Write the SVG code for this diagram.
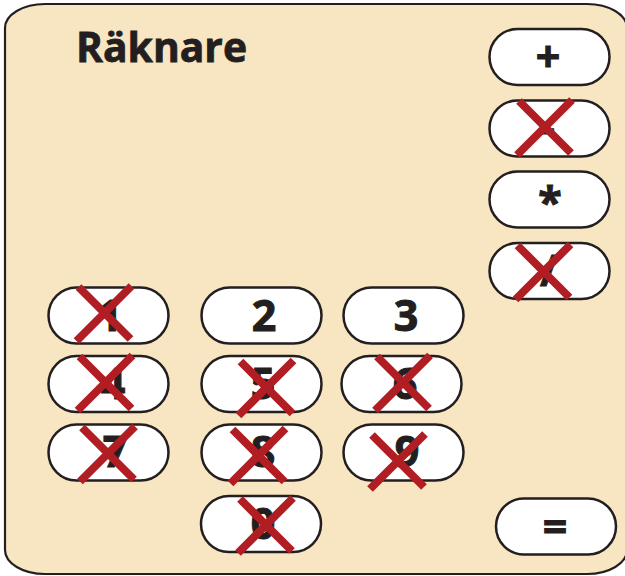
<svg xmlns="http://www.w3.org/2000/svg" width="625" height="576" viewBox="0 0 625 576">
<defs>
<style>
.frame{fill:#F8E5C1;stroke:#231F20;stroke-width:2.2}
.btn{fill:#FFFFFF;stroke:#231F20;stroke-width:2.5}
.lbl{font-family:"Open Sans","Liberation Sans",sans-serif;font-weight:700;font-size:43px;fill:#231F20;stroke:#231F20;stroke-width:1;text-anchor:middle}
.title{font-family:"Open Sans","Liberation Sans",sans-serif;font-weight:700;font-size:42px;fill:#231F20;stroke:#231F20;stroke-width:0.8}
.x{stroke:#B01E23;stroke-width:8;fill:none}
</style>
<path id="cross" class="x" d="M-26,-26 L26,26 M27,-27 L-28,28"/>
</defs>
<rect class="frame" x="5" y="4" width="622" height="570" rx="40" ry="24"/>
<text id="title" class="title" x="76" y="62" textLength="171" lengthAdjust="spacingAndGlyphs">Räknare</text>
<g id="btn-plus"><rect class="btn" x="489.5" y="29" width="120" height="56" rx="28"/><text class="lbl" x="548" y="72">+</text></g>
<g id="btn-minus"><rect class="btn" x="489.5" y="100.5" width="120" height="56" rx="28"/><text class="lbl" x="548" y="143">-</text></g>
<g id="btn-mul"><rect class="btn" x="489.5" y="171.5" width="120" height="56" rx="28"/><text class="lbl" x="550" y="218">*</text></g>
<g id="btn-div"><rect class="btn" x="489.5" y="243" width="120" height="56" rx="28"/><text class="lbl" x="549" y="286">/</text></g>
<g id="btn-1"><rect class="btn" x="48.5" y="287.5" width="120" height="56" rx="28"/><text class="lbl" x="110" y="331">1</text></g>
<g id="btn-2"><rect class="btn" x="201.5" y="287.5" width="120" height="56" rx="28"/><text class="lbl" x="264" y="331">2</text></g>
<g id="btn-3"><rect class="btn" x="343.5" y="287.5" width="120" height="56" rx="28"/><text class="lbl" x="406" y="331">3</text></g>
<g id="btn-4"><rect class="btn" x="48.5" y="356" width="120" height="56" rx="28"/><text class="lbl" x="113" y="399">4</text></g>
<g id="btn-5"><rect class="btn" x="201.5" y="356" width="120" height="56" rx="28"/><text class="lbl" x="263" y="399">5</text></g>
<g id="btn-6"><rect class="btn" x="341.5" y="356" width="120" height="56" rx="28"/><text class="lbl" x="405" y="399">6</text></g>
<g id="btn-7"><rect class="btn" x="48.5" y="424.5" width="120" height="56" rx="28"/><text class="lbl" x="115" y="467">7</text></g>
<g id="btn-8"><rect class="btn" x="201.5" y="424.5" width="120" height="56" rx="28"/><text class="lbl" x="263" y="467">8</text></g>
<g id="btn-9"><rect class="btn" x="343.5" y="424.5" width="120" height="56" rx="28"/><text class="lbl" x="407" y="467">9</text></g>
<g id="btn-0"><rect class="btn" x="201" y="496" width="120" height="56" rx="28"/><text class="lbl" x="263" y="539">0</text></g>
<g id="btn-eq"><rect class="btn" x="496" y="498.5" width="120" height="56" rx="28"/><text class="lbl" x="555" y="542">=</text></g>
<g id="crosses">
<use href="#cross" x="545" y="127"/>
<use href="#cross" x="543.5" y="271.5"/>
<use href="#cross" x="104.5" y="313"/>
<use href="#cross" x="105.5" y="382.5"/>
<use href="#cross" x="266.5" y="387.5"/>
<use href="#cross" x="403" y="382.5"/>
<use href="#cross" x="108" y="453.5"/>
<use href="#cross" x="258.5" y="455.5"/>
<use href="#cross" x="398" y="461"/>
<use href="#cross" x="266" y="525"/>
</g>
</svg>
